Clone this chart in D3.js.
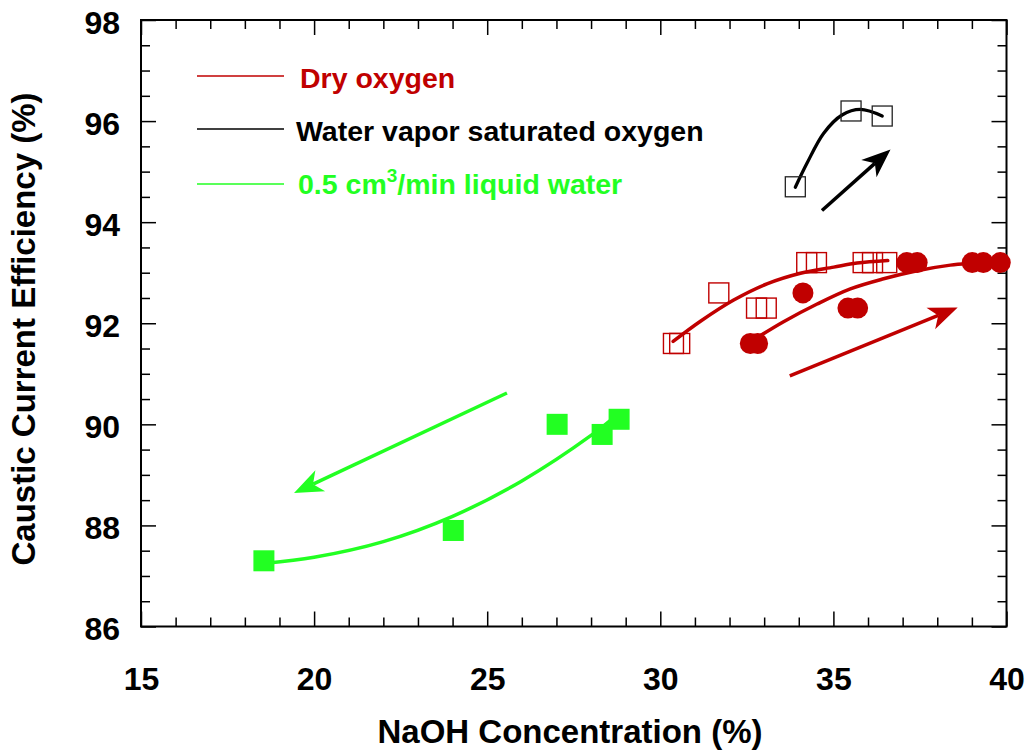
<!DOCTYPE html>
<html>
<head>
<meta charset="utf-8">
<script src="https://cdn.jsdelivr.net/npm/d3@7"></script>
<style>
  html, body { margin: 0; padding: 0; background: #fff; }
  svg { display: block; font-family: "Liberation Sans", Arial, sans-serif; font-weight: bold; }
</style>
</head>
<body>
<svg id="chart" width="1027" height="752"></svg>
<script>
// NaOH concentration (%) vs caustic current efficiency (%)

// Dry oxygen, run A (open squares)
const dryA_x = [30.38, 30.56, 31.69, 32.78, 33.06, 34.23, 34.51, 35.86, 36.13, 36.54];
const dryA_y = [91.6, 91.6, 92.6, 92.3, 92.3, 93.2, 93.2, 93.2, 93.2, 93.2];

// Dry oxygen, run B (filled circles)
const dryB_x = [32.60, 32.81, 34.12, 35.42, 35.70, 37.12, 37.42, 39.01, 39.33, 39.82];
const dryB_y = [91.6, 91.6, 92.6, 92.3, 92.3, 93.2, 93.2, 93.2, 93.2, 93.2];

// Water vapor saturated oxygen (open squares)
const wet_x = [33.90, 35.51, 36.41];
const wet_y = [94.7, 96.2, 96.1];

// 0.5 cm3/min liquid water (filled squares)
const liq_x = [18.55, 24.02, 27.02, 28.32, 28.81];
const liq_y = [87.3, 87.9, 90.0, 89.8, 90.1];

// Trend curves, as points along each fitted line
const fitDryA = [[30.37, 91.64], [31.16, 92.04], [32.12, 92.46], [33.08, 92.78], [34.05, 92.99], [35.01, 93.11], [35.68, 93.19], [36.57, 93.24]];
const fitDryB = [[32.81, 91.72], [33.56, 92.03], [34.53, 92.38], [35.49, 92.68], [36.45, 92.88], [37.42, 93.04], [38.38, 93.15], [39.0, 93.19], [39.4, 93.21]];
const fitWet = [[33.90, 94.69], [34.24, 95.17], [34.72, 95.76], [35.25, 96.12], [35.78, 96.23], [36.41, 96.10]];
const fitLiq = [[18.6, 87.25], [20.0, 87.37], [22.0, 87.68], [24.0, 88.18], [26.0, 88.88], [28.0, 89.78], [28.75, 90.19]];

// Trend arrows: [x tail, y tail, x head, y head]
const arrowWet = [34.67, 94.23, 36.65, 95.44];
const arrowDry = [33.74, 90.96, 38.59, 92.31];
const arrowLiq = [25.57, 90.62, 19.42, 88.64];

// Axes
const xDomain = [15, 40];
const yDomain = [86, 98];
const xMajor = [15, 20, 25, 30, 35, 40];
const xMinor = d3.range(16, 40, 1).filter(v => v % 5 !== 0);
const yMajor = [86, 88, 90, 92, 94, 96, 98];
const yMinor = d3.range(86.5, 98, 0.5).filter(v => v % 2 !== 0);

const legendLabels = ["Dry oxygen", "Water vapor saturated oxygen", "0.5 cm", "3", "/min liquid water"];
const xTitle = "NaOH Concentration (%)";
const yTitle = "Caustic Current Efficiency (%)";

const RED = "#c00000", BLACK = "#000000", GREEN = "#22ff22";

const svg = d3.select("#chart");
const L = 141, R = 1006.5, T = 20, B = 626.5;
const x = d3.scaleLinear().domain(xDomain).range([L, R]);
const y = d3.scaleLinear().domain(yDomain).range([B, T]);

// ---- frame and ticks ----
function styleAxis(g) {
  g.select(".domain").remove();
  g.selectAll(".tick line").attr("stroke", "#000").attr("stroke-width", 1.5);
}
const labelFont = 32;

svg.append("g").attr("transform", `translate(0,${B})`)
  .call(d3.axisBottom(x).tickValues(xMajor).tickSize(-15).tickPadding(41).tickFormat(d3.format("d")))
  .call(styleAxis)
  .call(g => g.selectAll("text").attr("font-size", labelFont).attr("font-family", "Liberation Sans, Arial, sans-serif").attr("font-weight", "bold").attr("fill", "#000"));
svg.append("g").attr("transform", `translate(0,${B})`)
  .call(d3.axisBottom(x).tickValues(xMinor).tickSize(-9).tickFormat(""))
  .call(styleAxis);
svg.append("g").attr("transform", `translate(0,${T})`)
  .call(d3.axisTop(x).tickValues(xMajor).tickSize(-15).tickFormat(""))
  .call(styleAxis);
svg.append("g").attr("transform", `translate(0,${T})`)
  .call(d3.axisTop(x).tickValues(xMinor).tickSize(-9).tickFormat(""))
  .call(styleAxis);

svg.append("g").attr("transform", `translate(${L},0)`)
  .call(d3.axisLeft(y).tickValues(yMajor).tickSize(-15).tickPadding(21).tickFormat(d3.format("d")))
  .call(styleAxis)
  .call(g => g.selectAll("text").attr("font-size", labelFont).attr("dy", "0.42em").attr("font-family", "Liberation Sans, Arial, sans-serif").attr("font-weight", "bold").attr("fill", "#000"));
svg.append("g").attr("transform", `translate(${L},0)`)
  .call(d3.axisLeft(y).tickValues(yMinor).tickSize(-9).tickFormat(""))
  .call(styleAxis);
svg.append("g").attr("transform", `translate(${R},0)`)
  .call(d3.axisRight(y).tickValues(yMajor).tickSize(-15).tickFormat(""))
  .call(styleAxis);
svg.append("g").attr("transform", `translate(${R},0)`)
  .call(d3.axisRight(y).tickValues(yMinor).tickSize(-9).tickFormat(""))
  .call(styleAxis);

svg.append("rect")
  .attr("x", L).attr("y", T).attr("width", R - L).attr("height", B - T)
  .attr("fill", "none").attr("stroke", "#000").attr("stroke-width", 2);

// ---- axis titles ----
svg.append("text")
  .attr("x", 570).attr("y", 743)
  .attr("text-anchor", "middle").attr("font-size", 33)
  .text(xTitle);
svg.append("text")
  .attr("transform", "translate(35,329) rotate(-90)")
  .attr("text-anchor", "middle").attr("font-size", 33)
  .text(yTitle);

// ---- fitted curves ----
const line = d3.line().x(d => x(d[0])).y(d => y(d[1])).curve(d3.curveCatmullRom.alpha(0.5));
const plot = svg.append("g");
[[fitDryA, RED, 3.5], [fitDryB, RED, 3.5], [fitWet, BLACK, 3.3], [fitLiq, GREEN, 3.5]].forEach(([pts, col, w]) => {
  plot.append("path").attr("d", line(pts)).attr("fill", "none")
    .attr("stroke", col).attr("stroke-width", w).attr("stroke-linecap", "round");
});

// ---- arrows ----
function arrow(a, col) {
  const x1 = x(a[0]), y1 = y(a[1]), x2 = x(a[2]), y2 = y(a[3]);
  const dx = x2 - x1, dy = y2 - y1, len = Math.hypot(dx, dy);
  const ux = dx / len, uy = dy / len, nx = -uy, ny = ux;
  const headL = 29, headW = 11.5, notch = 21;
  plot.append("line")
    .attr("x1", x1).attr("y1", y1)
    .attr("x2", x2 - ux * notch).attr("y2", y2 - uy * notch)
    .attr("stroke", col).attr("stroke-width", 3.5);
  const p = [
    [x2, y2],
    [x2 - ux * headL + nx * headW, y2 - uy * headL + ny * headW],
    [x2 - ux * notch, y2 - uy * notch],
    [x2 - ux * headL - nx * headW, y2 - uy * headL - ny * headW]
  ];
  plot.append("path").attr("d", "M" + p.map(q => q.join(",")).join("L") + "Z").attr("fill", col);
}
arrow(arrowWet, BLACK);
arrow(arrowDry, RED);
arrow(arrowLiq, GREEN);

// ---- markers ----
const sq = 20;
plot.selectAll(".dryA").data(d3.zip(dryA_x, dryA_y)).join("rect")
  .attr("x", d => x(d[0]) - sq / 2).attr("y", d => y(d[1]) - sq / 2)
  .attr("width", sq).attr("height", sq)
  .attr("fill", "none").attr("stroke", RED).attr("stroke-width", 1.4);
plot.selectAll(".dryB").data(d3.zip(dryB_x, dryB_y)).join("circle")
  .attr("cx", d => x(d[0])).attr("cy", d => y(d[1])).attr("r", 10.5)
  .attr("fill", RED);
plot.selectAll(".wet").data(d3.zip(wet_x, wet_y)).join("rect")
  .attr("x", d => x(d[0]) - sq / 2).attr("y", d => y(d[1]) - sq / 2)
  .attr("width", sq).attr("height", sq)
  .attr("fill", "none").attr("stroke", "#222").attr("stroke-width", 1.3);
plot.selectAll(".liq").data(d3.zip(liq_x, liq_y)).join("rect")
  .attr("x", d => x(d[0]) - 10.5).attr("y", d => y(d[1]) - 10.5)
  .attr("width", 21).attr("height", 21)
  .attr("fill", GREEN);

// ---- legend ----
const leg = svg.append("g").attr("font-size", 28.5);
const legRows = [
  { y: 76, col: RED, tx: 300, ty: 88 },
  { y: 129, col: BLACK, tx: 296, ty: 141 },
  { y: 184, col: GREEN, tx: 298, ty: 194 }
];
legRows.forEach(r => {
  leg.append("line").attr("x1", 197).attr("x2", 284).attr("y1", r.y).attr("y2", r.y)
    .attr("stroke", r.col).attr("stroke-width", 1.3);
});
leg.append("text").attr("x", legRows[0].tx).attr("y", legRows[0].ty).attr("fill", RED).text(legendLabels[0]);
leg.append("text").attr("x", legRows[1].tx).attr("y", legRows[1].ty).attr("fill", BLACK).text(legendLabels[1]);
const t3 = leg.append("text").attr("x", legRows[2].tx).attr("y", legRows[2].ty).attr("fill", GREEN);
t3.append("tspan").text(legendLabels[2]);
t3.append("tspan").attr("font-size", 19).attr("dy", -12).text(legendLabels[3]);
t3.append("tspan").attr("dy", 12).text(legendLabels[4]);
</script>
</body>
</html>
